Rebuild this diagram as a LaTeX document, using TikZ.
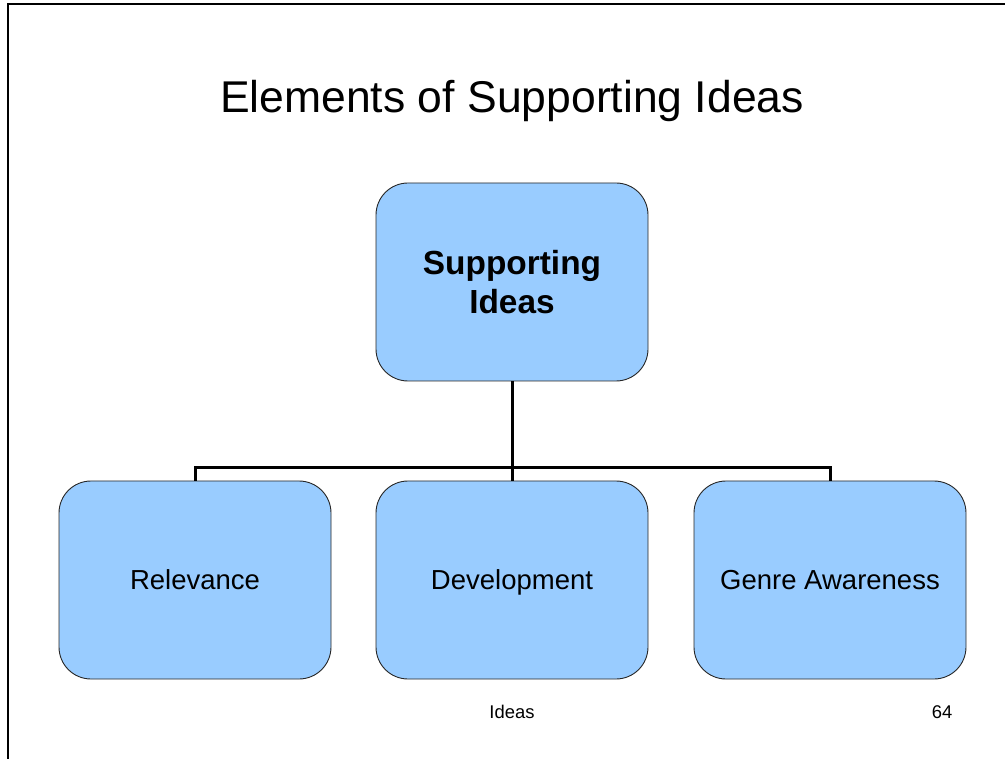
\documentclass[tikz,border=0pt]{standalone}
\usepackage{fontspec}
\setmainfont{Liberation Sans}
\definecolor{boxblue}{HTML}{99CCFF}
\tikzset{
  ideabox/.style={draw=black!85, line width=0.9pt, fill=boxblue, rounded corners=32pt,
    minimum width=272pt, minimum height=198pt, inner sep=0pt, align=center, text=black},
  leafbox/.style={ideabox, font=\fontsize{27.5}{33}\selectfont, text height=19.7pt, text depth=0pt},
  conn/.style={line width=3pt, black},
}
\begin{document}
\begin{tikzpicture}[x=1pt,y=-1pt]
\useasboundingbox (0,0) rectangle (1005,759);
\draw[line width=1.6pt] (8,759) -- (8,4) -- (1005,4);
\node[font=\fontsize{44.5}{52}\selectfont] (title) at (512,101) {Elements of Supporting Ideas};
\node[ideabox, font=\fontsize{33.4}{39}\selectfont\bfseries] (top) at (512,282) {Supporting\\ Ideas};
\node[leafbox] (rel) at (195,580) {Relevance};
\node[leafbox] (dev) at (512,580) {Development};
\node[leafbox] (gen) at (830,580) {Genre Awareness};
\coordinate (j) at (512,468);
\draw[conn] (top.south) -- (j);
\draw[conn] (rel.north) |- (j);
\draw[conn] (gen.north) |- (j);
\draw[conn] (j) -- (dev.north);
\node[font=\fontsize{18.4}{22}\selectfont] (foot) at (512,712) {Ideas};
\node[font=\fontsize{18.4}{22}\selectfont] (num) at (942,712) {64};
\end{tikzpicture}
\end{document}
